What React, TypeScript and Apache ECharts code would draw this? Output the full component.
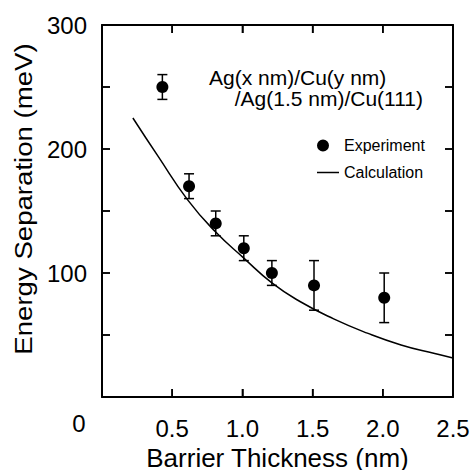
import React, { useEffect, useRef } from "react";
import * as echarts from "echarts";

const expX = [0.43, 0.62, 0.81, 1.01, 1.21, 1.51, 2.01];
const expY = [250, 170, 140, 120, 100, 90, 80];
const expLow = [240, 160, 130, 110, 90, 70, 60];
const expHigh = [260, 180, 150, 130, 110, 110, 100];

const calcX = [0.22, 0.4, 0.61, 0.81, 1.01, 1.21, 1.41, 1.65, 1.89, 2.13, 2.37, 2.5];
const calcY = [225, 194, 159, 133, 112, 92, 77, 63, 51.5, 42, 35, 31.5];

const xTicks = [0.5, 1.0, 1.5, 2.0];
const yTicks = [50, 100, 150, 200, 250];
const xRange = [0, 2.5];
const yRange = [0, 300];

const titleLines = ["Ag(x nm)/Cu(y nm)", "/Ag(1.5 nm)/Cu(111)"];
const yName = "Energy Separation (meV)";
const xName = "Barrier Thickness (nm)";
const FONT = "'Liberation Sans', Arial, Helvetica, sans-serif";

function mkLine(onZero: boolean) {
  return { show: true, onZero, lineStyle: { color: "#000", width: 2 } };
}
function mkTick() {
  return { show: true, inside: true, length: 8, lineStyle: { color: "#000", width: 1.5 } };
}

export default function App() {
  const ref = useRef<HTMLDivElement>(null);
  useEffect(() => {
    if (!ref.current) return;
    const chart = echarts.init(ref.current, null, { renderer: "svg" });
    const TL = 8;
    const tickStyle = { stroke: "#000", lineWidth: 1.5 };
    chart.setOption({
      animation: false,
      grid: { left: 102, right: 20, top: 25, bottom: 73, outerBoundsMode: "none" },
      legend: {
        orient: "vertical",
        left: 312,
        top: 132,
        itemWidth: 22,
        itemHeight: 12,
        itemGap: 10,
        textStyle: { fontFamily: FONT, fontSize: 16, color: "#000", lineHeight: 17 },
        data: [
          {
            name: "Experiment",
            icon: "path://M0,6a6,6 0 1,0 12,0a6,6 0 1,0 -12,0zM21.9,5.95h0.1v0.1h-0.1z",
          },
          { name: "Calculation", icon: "path://M0,5.25h22v1.5h-22z" },
        ],
      },
      xAxis: [
        {
          type: "value",
          min: xRange[0],
          max: xRange[1],
          interval: 0.5,
          position: "bottom",
          z: 10,
          name: xName,
          nameLocation: "middle",
          nameGap: 46,
          nameTextStyle: { fontFamily: FONT, fontSize: 26, color: "#000" },
          axisLine: mkLine(true),
          axisTick: mkTick(),
          splitLine: { show: false },
          axisLabel: {
            margin: 19,
            fontFamily: FONT,
            fontSize: 24,
            color: "#000",
            formatter: (v: number) => (v === 0 ? "" : v.toFixed(1)),
          },
        },
        {
          type: "value",
          min: xRange[0],
          max: xRange[1],
          interval: 0.5,
          position: "top",
          z: 10,
          axisLine: mkLine(false),
          axisTick: mkTick(),
          splitLine: { show: false },
          axisLabel: { show: false },
        },
      ],
      yAxis: [
        {
          type: "value",
          min: yRange[0],
          max: yRange[1],
          interval: 50,
          position: "left",
          z: 10,
          axisLine: mkLine(true),
          axisTick: mkTick(),
          splitLine: { show: false },
          axisLabel: {
            margin: 15,
            fontFamily: FONT,
            fontSize: 24,
            color: "#000",
            formatter: (v: number) => (v !== 0 && v % 100 === 0 ? String(v) : ""),
          },
        },
        {
          type: "value",
          min: yRange[0],
          max: yRange[1],
          interval: 50,
          position: "right",
          z: 10,
          axisLine: mkLine(false),
          axisTick: mkTick(),
          splitLine: { show: false },
          axisLabel: { show: false },
        },
      ],
      graphic: [
        {
          type: "text",
          left: 209,
          top: 67,
          style: { text: titleLines[0], font: `21px ${FONT}`, fill: "#000" },
        },
        {
          type: "text",
          right: 50,
          top: 88,
          style: { text: titleLines[1], font: `21px ${FONT}`, fill: "#000" },
        },
        {
          type: "text",
          x: 79,
          y: 423,
          style: { text: "0", font: `24px ${FONT}`, fill: "#000", align: "center", verticalAlign: "middle" },
        },
        {
          type: "text",
          x: 24,
          y: 199,
          rotation: Math.PI / 2,
          scaleX: 1.15,
          style: { text: yName, font: `24px ${FONT}`, fill: "#000", align: "center", verticalAlign: "middle" },
        },
      ],
      series: [
        {
          name: "Calculation",
          type: "line",
          data: calcX.map((x, i) => [x, calcY[i]]),
          smooth: true,
          symbol: "none",
          lineStyle: { color: "#000", width: 1.5 },
          itemStyle: { color: "#000" },
        },
        {
          name: "xTicks",
          type: "custom",
          silent: true,
          z: 10,
          data: xTicks.map((v) => [v, yRange[0]]),
          renderItem: (params: any, api: any) => {
            const v = api.value(0);
            const b = api.coord([v, yRange[0]]);
            const t = api.coord([v, yRange[1]]);
            return {
              type: "group",
              children: [
                { type: "line", shape: { x1: b[0], y1: b[1], x2: b[0], y2: b[1] - TL }, style: tickStyle },
                { type: "line", shape: { x1: t[0], y1: t[1], x2: t[0], y2: t[1] + TL }, style: tickStyle },
              ],
            };
          },
        },
        {
          name: "yTicks",
          type: "custom",
          silent: true,
          z: 10,
          data: yTicks.map((v) => [xRange[0], v]),
          renderItem: (params: any, api: any) => {
            const v = api.value(1);
            const l = api.coord([xRange[0], v]);
            const r = api.coord([xRange[1], v]);
            return {
              type: "group",
              children: [
                { type: "line", shape: { x1: l[0], y1: l[1], x2: l[0] + TL, y2: l[1] }, style: tickStyle },
                { type: "line", shape: { x1: r[0], y1: r[1], x2: r[0] - TL, y2: r[1] }, style: tickStyle },
              ],
            };
          },
        },
        {
          name: "ErrorBars",
          type: "custom",
          data: expX.map((x, i) => [x, expLow[i], expHigh[i]]),
          renderItem: (params: any, api: any) => {
            const x = api.value(0);
            const lo = api.coord([x, api.value(1)]);
            const hi = api.coord([x, api.value(2)]);
            const hw = 5;
            const style = { stroke: "#000", lineWidth: 1.5 };
            return {
              type: "group",
              children: [
                { type: "line", shape: { x1: lo[0], y1: lo[1], x2: hi[0], y2: hi[1] }, style },
                { type: "line", shape: { x1: lo[0] - hw, y1: lo[1], x2: lo[0] + hw, y2: lo[1] }, style },
                { type: "line", shape: { x1: hi[0] - hw, y1: hi[1], x2: hi[0] + hw, y2: hi[1] }, style },
              ],
            };
          },
          z: 3,
        },
        {
          name: "Experiment",
          type: "scatter",
          data: expX.map((x, i) => [x, expY[i]]),
          symbol: "circle",
          symbolSize: 12,
          itemStyle: { color: "#000", opacity: 1 },
          z: 4,
        },
      ],
    });
    return () => chart.dispose();
  }, []);
  return (
    <div
      ref={ref}
      style={{ position: "absolute", left: 0, top: 0, width: 473, height: 470, background: "#fff" }}
    />
  );
}
